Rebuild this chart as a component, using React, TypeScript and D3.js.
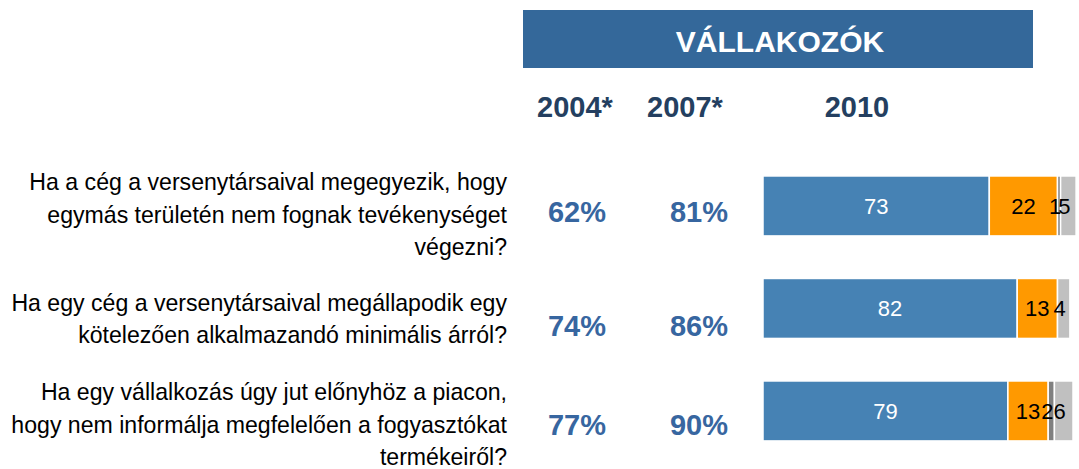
import { useEffect, useRef } from "react";
import * as d3 from "d3";

// chart data
const title = "VÁLLAKOZÓK";
const yearLabels = ["2004*", "2007*", "2010"];
const questions = [
  ["Ha a cég a versenytársaival megegyezik, hogy", "egymás területén nem fognak tevékenységet", "végezni?"],
  ["Ha egy cég a versenytársaival megállapodik egy", "kötelezően alkalmazandó minimális árról?"],
  ["Ha egy vállalkozás úgy jut előnyhöz a piacon,", "hogy nem informálja megfelelően a fogyasztókat", "termékeiről?"],
];
const pct2004 = [62, 74, 77];
const pct2007 = [81, 86, 90];
const seriesNames = ["igen", "nem", "nem tudja", "nem válaszolt"];
const seriesColors = ["#4682b4", "#ff9900", "#808080", "#c0c0c0"];
const values2010 = [
  [73, 22, 1, 5],
  [82, 13, 0, 4],
  [79, 13, 2, 6],
];

const W = 1079;
const H = 469;
const FONT = "'Liberation Sans', Arial, sans-serif";

export default function App() {
  const ref = useRef<SVGSVGElement>(null);

  useEffect(() => {
    const svg = d3.select(ref.current);
    svg.selectAll("*").remove();

    // scales
    const x = d3.scaleLinear().domain([0, 100]).range([763, 1073]);
    const y = d3.scaleBand<number>()
      .domain(questions.map((_, i) => i))
      .range([154.7, 462.2])
      .paddingInner(0.415)
      .paddingOuter(0.2075);
    const textY = d3.scaleLinear().domain([0, 1, 2]).range([223, 327, 433]);
    const pctY = d3.scaleLinear().domain([0, 1, 2]).range([222, 336, 435]);
    const pctX = d3.scalePoint<string>().domain(yearLabels.slice(0, 2)).range([577, 699]);

    // header
    svg.append("rect")
      .attr("x", 523).attr("y", 10)
      .attr("width", 510).attr("height", 58)
      .attr("fill", "#34689a");
    svg.append("text")
      .attr("x", 780).attr("y", 52)
      .attr("text-anchor", "middle")
      .attr("font-family", FONT)
      .attr("font-weight", "bold")
      .attr("font-size", 30)
      .attr("fill", "#ffffff")
      .text(title);

    // year headers
    const yearX = [575, 685, 857];
    svg.selectAll(".year")
      .data(yearLabels).enter()
      .append("text")
      .attr("class", "year")
      .attr("x", (d, i) => yearX[i])
      .attr("y", 117)
      .attr("text-anchor", "middle")
      .attr("font-family", FONT)
      .attr("font-weight", "bold")
      .attr("font-size", 29)
      .attr("fill", "#243f60")
      .text(d => d);

    // questions (slightly condensed, like the narrow font of the original)
    questions.forEach((lines, i) => {
      const mid = textY(i);
      const lh = 32.5;
      const first = mid - ((lines.length - 1) / 2) * lh;
      const t = svg.append("text")
        .attr("transform", "translate(507,0) scale(0.963,1)")
        .attr("text-anchor", "end")
        .attr("font-family", FONT)
        .attr("font-size", 24)
        .attr("fill", "#000000");
      lines.forEach((line, j) => {
        t.append("tspan")
          .attr("x", 0)
          .attr("y", first + j * lh)
          .text(line);
      });
    });

    // percentages 2004 / 2007
    [pct2004, pct2007].forEach((arr, k) => {
      svg.selectAll(".pct" + k)
        .data(arr).enter()
        .append("text")
        .attr("class", "pct" + k)
        .attr("x", pctX(yearLabels[k]) as number)
        .attr("y", (d, i) => pctY(i))
        .attr("text-anchor", "middle")
        .attr("font-family", FONT)
        .attr("font-weight", "bold")
        .attr("font-size", 29)
        .attr("fill", "#3766a0")
        .text(d => d + "%");
    });

    // stacked bars 2010
    const rows = values2010.map((vals, i) => {
      let acc = 0;
      return vals.map((v, s) => {
        const seg = { row: i, s, name: seriesNames[s], v, x0: acc, x1: acc + v };
        acc += v;
        return seg;
      });
    });
    const segs = rows.flat().filter(d => d.v > 0);

    svg.selectAll(".seg")
      .data(segs).enter()
      .append("rect")
      .attr("class", "seg")
      .attr("x", d => x(d.x0))
      .attr("y", d => y(d.row) as number)
      .attr("width", d => x(d.x1) - x(d.x0))
      .attr("height", y.bandwidth())
      .attr("fill", d => seriesColors[d.s])
      .attr("stroke", "#ffffff")
      .attr("stroke-width", 1.5);

    svg.selectAll(".segLabel")
      .data(segs).enter()
      .append("text")
      .attr("class", "segLabel")
      .attr("x", d => (x(d.x0) + x(d.x1)) / 2 - (d.s >= 2 ? 4 : 0))
      .attr("y", d => (y(d.row) as number) + y.bandwidth() / 2 + 8)
      .attr("text-anchor", "middle")
      .attr("font-family", FONT)
      .attr("font-size", 22)
      .attr("fill", d => (d.s === 0 ? "#ffffff" : "#000000"))
      .text(d => d.v);
  }, []);

  return (
    <svg ref={ref} width={W} height={H} style={{ position: "absolute", left: 0, top: 0, background: "#ffffff" }} />
  );
}
